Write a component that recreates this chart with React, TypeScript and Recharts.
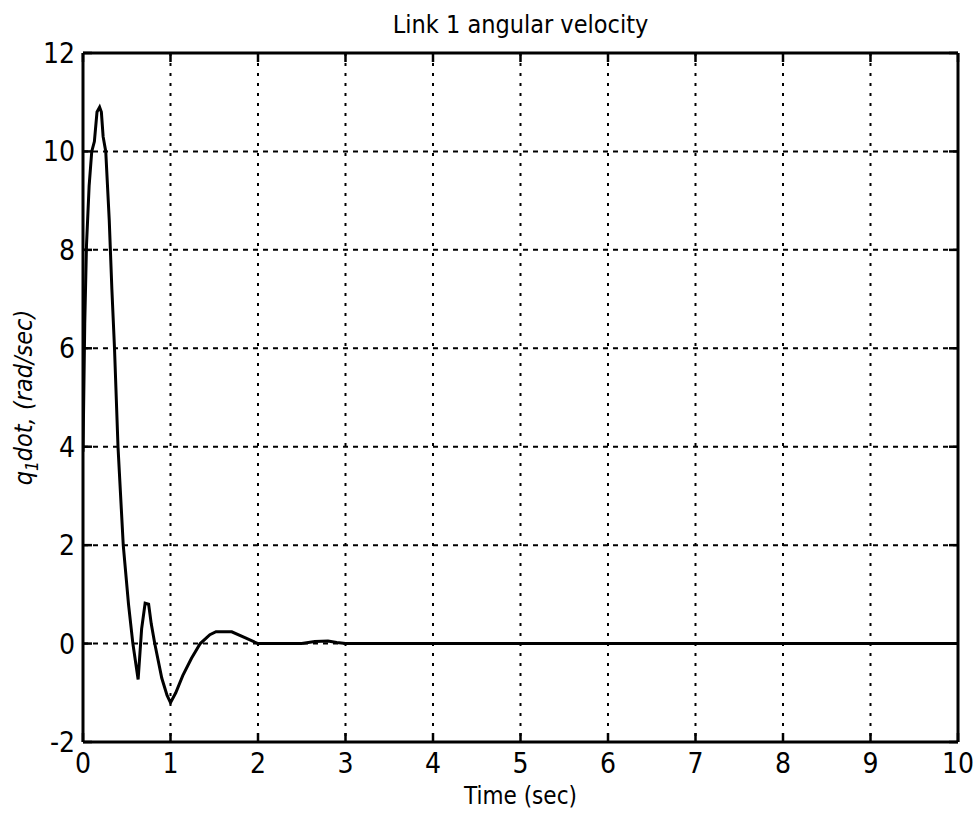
import { LineChart, Line, XAxis, YAxis, CartesianGrid, Label, ReferenceLine } from 'recharts';

const times = [
  0, 0.02, 0.04, 0.07, 0.1, 0.13, 0.16, 0.19, 0.21, 0.23, 0.26, 0.3, 0.33, 0.36, 0.4, 0.46,
  0.52, 0.57, 0.63, 0.67, 0.71, 0.75, 0.78, 0.82, 0.9, 0.96, 1.0, 1.06, 1.14, 1.24, 1.34,
  1.45, 1.52, 1.7, 1.85, 2.0, 2.5, 2.65, 2.8, 2.9, 3.0, 4, 5, 6, 7, 8, 9, 10,
];
const velocity = [
  3.9, 6.5, 8.1, 9.3, 10.0, 10.2, 10.8, 10.9, 10.8, 10.3, 10.0, 8.6, 7.2, 6.0, 4.0, 2.0,
  0.8, 0.0, -0.73, 0.3, 0.82, 0.8, 0.4, 0.0, -0.7, -1.05, -1.2, -1.0, -0.65, -0.3, 0.0,
  0.18, 0.24, 0.24, 0.12, 0.0, 0.0, 0.04, 0.05, 0.02, 0.0, 0, 0, 0, 0, 0, 0, 0,
];
const xTicks = [0, 1, 2, 3, 4, 5, 6, 7, 8, 9, 10];
const yTicks = [-2, 0, 2, 4, 6, 8, 10, 12];

const data = times.map((t, i) => ({ t, v: velocity[i] }));

const FONT = "'Liberation Sans Narrow', 'DejaVu Sans Condensed', 'Liberation Sans', sans-serif";
const INK = '#000';

function BottomTick({ x, y, payload }: any) {
  return (
    <g>
      <line x1={x} y1={y} x2={x} y2={y - 9} stroke={INK} strokeWidth={2.5} />
      <text x={x} y={y + 31} textAnchor="middle" fontSize={28} fontFamily={FONT} fill={INK}>
        {payload.value}
      </text>
    </g>
  );
}

function TopTick({ x, y }: any) {
  return <line x1={x} y1={y} x2={x} y2={y + 9} stroke={INK} strokeWidth={2.5} />;
}

function LeftTick({ x, y, payload }: any) {
  return (
    <g>
      <line x1={x} y1={y} x2={x + 9} y2={y} stroke={INK} strokeWidth={2.5} />
      <text x={x - 8} y={y + 10} textAnchor="end" fontSize={28} fontFamily={FONT} fill={INK}>
        {payload.value}
      </text>
    </g>
  );
}

function RightTick({ x, y }: any) {
  return <line x1={x} y1={y} x2={x - 9} y2={y} stroke={INK} strokeWidth={2.5} />;
}

function XLabel({ viewBox }: any) {
  const cx = viewBox.x + viewBox.width / 2;
  return (
    <text x={cx} y={viewBox.y + 62} textAnchor="middle" fontSize={24} fontFamily={FONT} fill={INK}>
      Time (sec)
    </text>
  );
}

function YLabel({ viewBox }: any) {
  const cy = viewBox.y + viewBox.height / 2;
  const cx = 32;
  return (
    <text
      x={cx}
      y={cy}
      transform={`rotate(-90, ${cx}, ${cy})`}
      textAnchor="middle"
      fontSize={25}
      fontStyle="italic"
      fontFamily={FONT}
      fill={INK}
    >
      q
      <tspan fontSize={17} dy={6}>1</tspan>
      <tspan dy={-6}>dot, (rad/sec)</tspan>
    </text>
  );
}

export default function App() {
  return (
    <div style={{ position: 'absolute', left: 0, top: 0, width: 976, height: 820, background: '#fff' }}>
      <div
        style={{
          position: 'absolute',
          left: 83,
          width: 875,
          top: 10,
          textAlign: 'center',
          fontSize: 25,
          fontFamily: FONT,
          color: INK,
        }}
      >
        Link 1 angular velocity
      </div>
      <LineChart
        width={976}
        height={820}
        data={data}
        margin={{ top: 52, right: 17, bottom: 38, left: 43 }}
      >
        <CartesianGrid horizontal={false} stroke={INK} strokeWidth={2} strokeDasharray="3 7" />
        <CartesianGrid vertical={false} stroke={INK} strokeWidth={2} strokeDasharray="5 5" />
        <XAxis
          dataKey="t"
          type="number"
          domain={[0, 10]}
          ticks={xTicks}
          allowDataOverflow
          height={40}
          tickSize={0}
          tickMargin={0}
          tickLine={false}
          axisLine={false}
          tick={<BottomTick />}
        >
          <Label content={<XLabel />} />
        </XAxis>
        <XAxis
          xAxisId="top"
          orientation="top"
          dataKey="t"
          type="number"
          domain={[0, 10]}
          ticks={xTicks}
          allowDataOverflow
          height={1}
          tickSize={0}
          tickMargin={0}
          tickLine={false}
          axisLine={false}
          tick={<TopTick />}
        />
        <YAxis
          type="number"
          domain={[-2, 12]}
          ticks={yTicks}
          allowDataOverflow
          width={40}
          tickSize={0}
          tickMargin={0}
          tickLine={false}
          axisLine={false}
          tick={<LeftTick />}
        >
          <Label content={<YLabel />} />
        </YAxis>
        <YAxis
          yAxisId="right"
          orientation="right"
          type="number"
          domain={[-2, 12]}
          ticks={yTicks}
          allowDataOverflow
          width={1}
          tickSize={0}
          tickMargin={0}
          tickLine={false}
          axisLine={false}
          tick={<RightTick />}
        />
        <ReferenceLine x={0} stroke={INK} strokeWidth={3} />
        <ReferenceLine x={10} stroke={INK} strokeWidth={3} />
        <ReferenceLine y={-2} stroke={INK} strokeWidth={3} />
        <ReferenceLine y={12} stroke={INK} strokeWidth={3} />
        <Line
          type="linear"
          dataKey="v"
          stroke={INK}
          strokeWidth={3}
          dot={false}
          isAnimationActive={false}
        />
      </LineChart>
    </div>
  );
}
